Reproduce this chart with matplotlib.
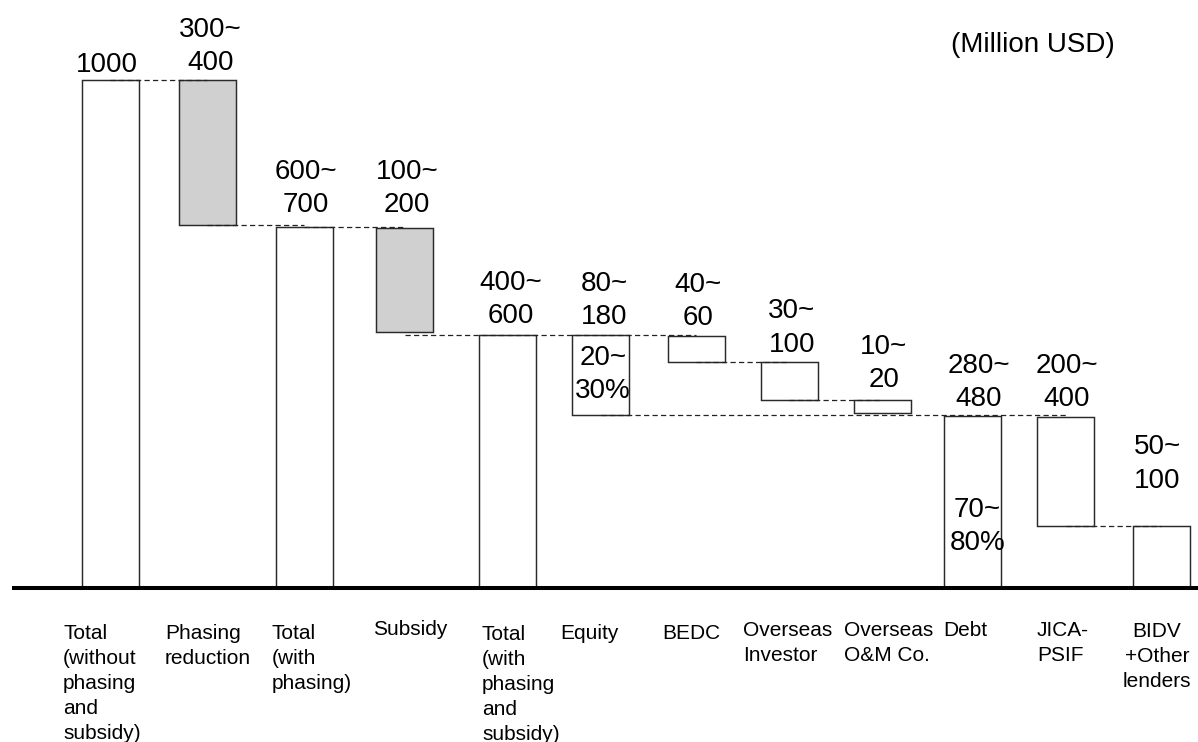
import matplotlib
matplotlib.use("Agg")
import matplotlib.pyplot as plt
import matplotlib.transforms as mtransforms

# ---------------- data ----------------
categories = [
    "Total\n(without\nphasing\nand\nsubsidy)",
    "Phasing\nreduction",
    "Total\n(with\nphasing)",
    "Subsidy",
    "Total\n(with\nphasing\nand\nsubsidy)",
    "Equity",
    "BEDC",
    "Overseas\nInvestor",
    "Overseas\nO&M Co.",
    "Debt",
    "JICA-\nPSIF",
    "BIDV\n+Other\nlenders",
]
bar_low = [0, 714, 0, 504, 0, 340, 444, 370, 344, 0, 121, 0]
bar_high = [1000, 1000, 710, 708, 498, 498, 496, 444, 370, 339, 336, 121]
shaded = [False, True, False, True, False, False, False, False, False, False, False, False]
value_labels = ["1000", "300~\n400", "600~\n700", "100~\n200", "400~\n600",
                "80~\n180", "40~\n60", "30~\n100", "10~\n20", "280~\n480",
                "200~\n400", "50~\n100"]
share_bars = [5, 9]
share_labels = ["20~\n30%", "70~\n80%"]
unit_label = "(Million USD)"
# connectors: (from bar, to bar, bar whose level is used, which end)
connectors = [(0, 1, 0, "high"), (1, 2, 1, "low"), (2, 3, 2, "high"),
              (3, 6, 4, "high"), (6, 7, 6, "low"), (7, 8, 7, "low"),
              (5, 10, 5, "low"), (10, 11, 10, "low")]

# ---------------- layout (pixels) ----------------
W, H = 1198, 742
base_px = 588.0
k = 0.5083  # px per value unit
bar_x = [110.3, 207.2, 304.2, 404.8, 507.7, 600.5, 696, 789, 882, 972.7, 1065.5, 1161]
bar_w = 57
value_dx = [-3, 3, 2, 2, 3, 4, 2, 3, 2, 6, 1, -4]
value_dy = [2.1, 3.8, 9.1, 10.1, 6.1, 4.8, 5.1, 4.7, 6.8, 3.8, 5.1, 32.8]
share_xy = [(603, 404), (977.5, 556)]
cat_x = [63, 165, 272, 373, 482, 560, 662, 743, 844, 943, 1037, 1157]
cat_base = [639, 639, 639, 635, 640, 639, 639, 636, 636, 636, 636, 637]

plt.rcParams["font.family"] = ["Liberation Sans", "DejaVu Sans"]

fig = plt.figure(figsize=(W / 100, H / 100), dpi=100)
ax = fig.add_axes([0, 0, 1, 1])
ax.set_xlim(0, W)
ax.set_ylim((base_px - H) / k, base_px / k)
ax.axis("off")

pix = mtransforms.Affine2D().scale(1, -1).translate(0, H)

edge = "#2a2a2a"
for i in range(len(categories)):
    ax.bar(bar_x[i], bar_high[i] - bar_low[i], bottom=bar_low[i], width=bar_w,
           color="#d0d0d0" if shaded[i] else "white", edgecolor=edge,
           linewidth=1.05, zorder=2)

for a, b, ref, end in connectors:
    lvl = bar_high[ref] if end == "high" else bar_low[ref]
    ax.plot([bar_x[a], bar_x[b]], [lvl, lvl], color="#222222", lw=0.9,
            linestyle=(0, (4.2, 2.6)), zorder=3)

# baseline
ax.plot([12, W], [0, 0], color="black", lw=2.9, solid_capstyle="butt", zorder=4)

# value labels
for i, lab in enumerate(value_labels):
    ax.annotate(lab, xy=(bar_x[i], bar_high[i]), xytext=(value_dx[i], value_dy[i]),
                textcoords="offset pixels", ha="center", va="bottom",
                fontsize=20, linespacing=1.36, zorder=5)

for (x, y), lab in zip(share_xy, share_labels):
    ax.text(x, y, lab, transform=pix, ha="center", va="bottom", fontsize=20,
            linespacing=1.36, zorder=5)

ax.text(951, 52, unit_label, transform=pix, ha="left", va="baseline", fontsize=20)

# category labels
asc = 0.716 * 15 * 100 / 72
for i, lab in enumerate(categories):
    ha = "center" if i == len(categories) - 1 else "left"
    ax.text(cat_x[i], cat_base[i] - asc, lab, transform=pix, ha=ha, va="top",
            multialignment=ha, fontsize=15, linespacing=1.40)

fig.savefig("out.png", dpi=100)
